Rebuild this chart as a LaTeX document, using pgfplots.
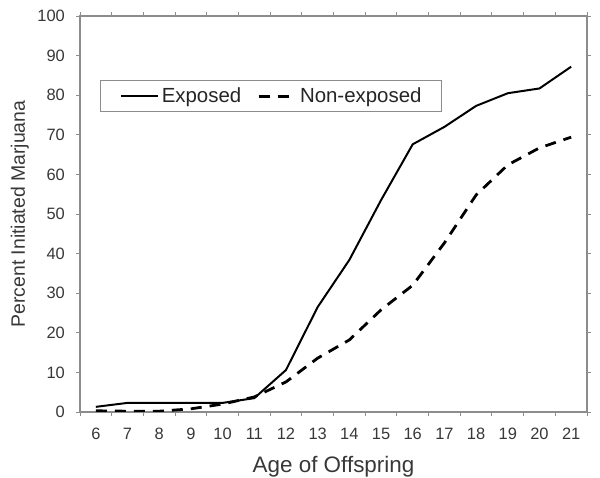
\documentclass[border=0pt]{standalone}
\usepackage{pgfplots}
\pgfplotsset{compat=1.18}
\usepackage{fontspec}
\setmainfont{Liberation Sans}
\definecolor{axgray}{gray}{0.55}
\definecolor{txt}{gray}{0.22}
\begin{document}
\begin{tikzpicture}[x=1bp,y=1bp]
\useasboundingbox (-80,-66) rectangle (520,412);
\begin{axis}[
  at={(0,0)}, anchor=south west,
  scale only axis, width=507bp, height=396bp,
  xmin=-0.5, xmax=15.5, ymin=0, ymax=100,
  xtick={0,...,15},
  xticklabels={6,7,8,9,10,11,12,13,14,15,16,17,18,19,20,21},
  major x tick style={draw=none},
  minor xtick={-0.5,0.5,...,15.5},
  minor tick length=4bp,
  ytick={0,10,...,100},
  major tick length=4bp,
  tick align=outside,
  axis line style={axgray, line width=1.1pt},
  every tick/.style={axgray, line width=0.9pt},
  tick label style={font=\fontsize{16.5}{18}\selectfont, text=txt, inner sep=0pt},
  /pgf/number format/assume math mode=true,
  xticklabel style={anchor=north, yshift=-12bp},
  yticklabel style={anchor=east, xshift=-11bp},
  xlabel={Age of Offspring},
  ylabel={Percent Initiated Marjuana},
  xlabel style={font=\fontsize{22.5}{24}\selectfont, text=txt, at={(axis description cs:0.5,0)}, anchor=base, yshift=-60bp, inner sep=0pt},
  ylabel style={font=\fontsize{19.5}{22}\selectfont, text=txt, at={(axis description cs:0,0.5)}, anchor=base, yshift=55bp, inner sep=0pt},
  legend columns=2,
  legend style={at={(0.04,0.838)}, anchor=north west, draw=axgray, line width=1pt,
    font=\fontsize{20.5}{22}\selectfont, text=black!85, inner xsep=19bp, inner ysep=6.5bp,
    nodes={inner sep=1bp},
    /tikz/every odd column/.append style={column sep=2bp},
    /tikz/every even column/.append style={column sep=15bp}},
  legend image code/.code={\draw[#1] (0bp,0bp) -- (37bp,0bp);},
]
\addplot[black, line width=2pt] coordinates {
(0,1.3) (1,2.3) (2,2.3) (3,2.3) (4,2.3) (5,3.5) (6,10.6) (7,26.5) (8,38.4) (9,53.5) (10,67.6) (11,72) (12,77.3) (13,80.5) (14,81.7) (15,87.2)};
\addlegendentry{Exposed}
\addplot[black, line width=2.8pt, dash pattern=on 11bp off 8bp] coordinates {
(0,0.3) (1,0.2) (2,0.2) (3,0.8) (4,2.0) (5,3.8) (6,7.6) (7,13.6) (8,18.2) (9,25.8) (10,32) (11,42.7) (12,54.8) (13,62.4) (14,66.7) (15,69.4)};
\addlegendentry{Non-exposed}
\end{axis}
\end{tikzpicture}
\end{document}
